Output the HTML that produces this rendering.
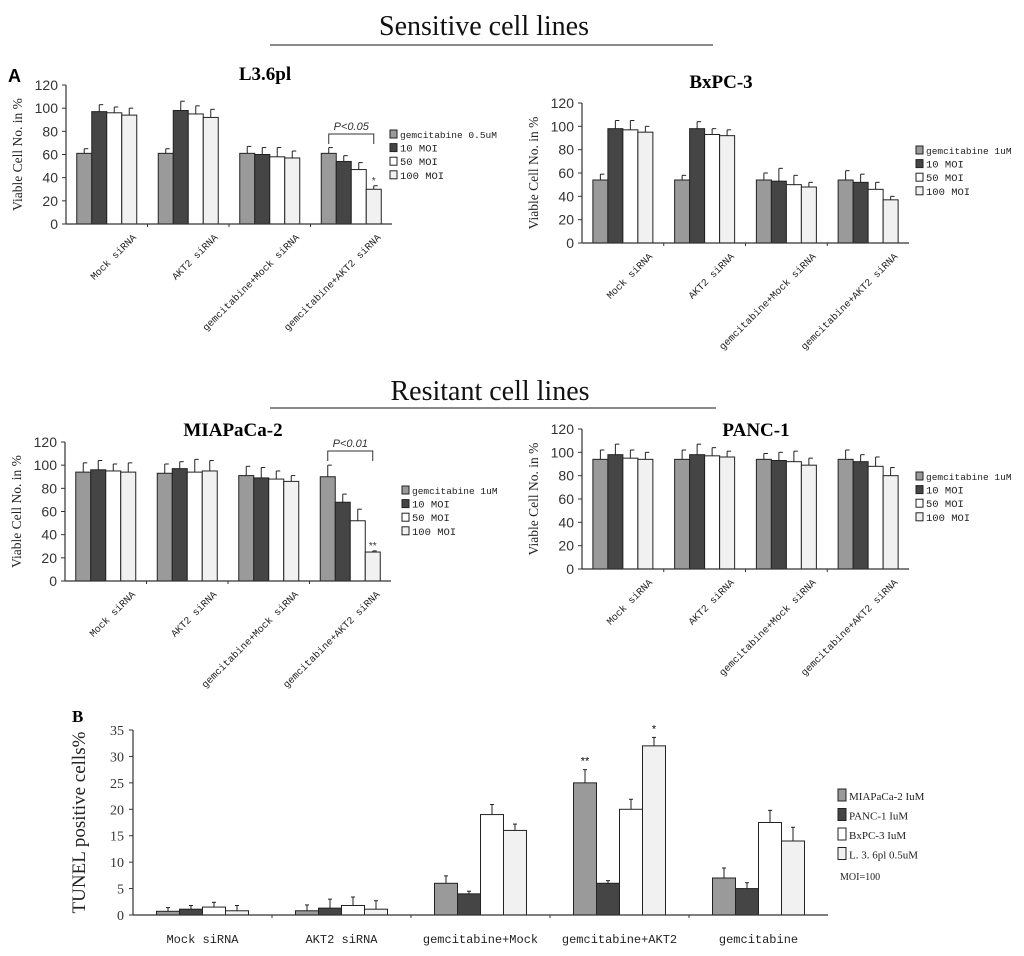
<!DOCTYPE html>
<html><head><meta charset="utf-8">
<style>
html,body{margin:0;padding:0;background:#fff;}
svg{display:block;}
.serif{font-family:"Liberation Serif",serif;}
.sans{font-family:"Liberation Sans",sans-serif;}
.mono{font-family:"Liberation Mono",monospace;}
</style></head>
<body>
<svg id="fig" width="1024" height="956" viewBox="0 0 1024 956" xmlns="http://www.w3.org/2000/svg">
<text class="serif" x="484" y="35" font-size="28" text-anchor="middle" fill="#111">Sensitive cell lines</text>
<line x1="270" y1="45" x2="713" y2="45" stroke="#444" stroke-width="1.2"/>
<text class="sans" x="8" y="82" font-size="18" font-weight="bold">A</text>
<text class="serif" x="490" y="400" font-size="28" text-anchor="middle" fill="#111">Resitant cell lines</text>
<line x1="270" y1="408" x2="716" y2="408" stroke="#444" stroke-width="1.2"/>
<text class="serif" x="72" y="722" font-size="17" font-weight="bold">B</text>
<g id="root"></g>
</svg>
<script>
const NS="http://www.w3.org/2000/svg";
const groupsA=["Mock siRNA","AKT2 siRNA","gemcitabine+Mock siRNA","gemcitabine+AKT2 siRNA"];
const seriesA=["10 MOI","50 MOI","100 MOI"];
const yTicksA=[0,20,40,60,80,100,120];
const fillsA=["#9a9a9a","#454545","#ffffff","#f1f1f1"];
// L3.6pl
const l36Gem=[61,61,61,61], l36M10=[97,98,60,54], l36M50=[96,95,58,47], l36M100=[94,92,57,30];
const l36Err=[[4,4,6,5],[6,8,6,5],[5,7,8,6],[6,7,6,3]];
// BxPC-3
const bxGem=[54,54,54,54], bxM10=[98,98,53,52], bxM50=[97,93,50,46], bxM100=[95,92,48,37];
const bxErr=[[5,4,6,8],[7,6,11,7],[8,5,8,6],[5,5,4,3]];
// MIAPaCa-2
const miaGem=[94,93,91,90], miaM10=[96,97,89,68], miaM50=[95,94,88,52], miaM100=[94,95,86,25];
const miaErr=[[8,8,8,10],[8,6,9,7],[6,11,7,10],[8,9,5,1]];
// PANC-1
const pancGem=[94,94,94,94], pancM10=[98,98,93,92], pancM50=[95,97,92,88], pancM100=[94,96,89,80];
const pancErr=[[8,8,5,8],[9,9,7,6],[7,7,9,8],[6,5,6,7]];
// Panel B
const groupsB=["Mock siRNA","AKT2 siRNA","gemcitabine+Mock","gemcitabine+AKT2","gemcitabine"];
const yTicksB=[0,5,10,15,20,25,30,35];
const seriesB=["MIAPaCa-2 IuM","PANC-1 IuM","BxPC-3 IuM","L. 3. 6pl 0.5uM"];
const bMia=[0.7,0.8,6,25,7], bPanc=[1.1,1.3,4,6,5], bBx=[1.5,1.8,19,20,17.5], bL36=[0.8,1.1,16,32,14];
const bErr=[[0.7,1.1,1.4,2.5,1.9],[0.7,1.7,0.5,0.5,1.1],[0.9,1.6,1.9,1.9,2.3],[1,1.6,1.2,1.6,2.6]];

const root=document.getElementById('root');
function el(tag,attrs,parent,txt){const e=document.createElementNS(NS,tag);for(const k in attrs)e.setAttribute(k,attrs[k]);if(txt!==undefined)e.textContent=txt;(parent||root).appendChild(e);return e;}

function chartA(cfg){
  const g=el('g',{});
  
  
  const x0=cfg.x0,x1=cfg.x1,y0=cfg.y0,y1=cfg.y1,max=cfg.max;
  const ys=v=>y0-(v/max)*(y0-y1);
  const gw=(x1-x0)/groupsA.length;
  const bw=15;
  const t=el('text',{x:cfg.tx,y:cfg.ty,'font-size':19,'font-weight':'bold','text-anchor':'middle',class:'serif'},g,cfg.title);
  
  
  const yl=el('text',{x:0,y:0,'font-size':13.5,'text-anchor':'middle',class:'serif',transform:'translate('+(x0-44)+','+((y0+y1)/2)+') rotate(-90)',fill:'#222'},g,'Viable Cell No. in %');
  
  
  yTicksA.forEach(v=>{
    const tk=el('text',{x:x0-8,y:ys(v)+5,'font-size':14,'text-anchor':'end',class:'sans',fill:'#333'},g,String(v));
    
    
    el('line',{x1:x0-4,x2:x0,y1:ys(v),y2:ys(v),stroke:'#333'},g);
  });
  const vals=cfg.data;
  groupsA.forEach((name,i)=>{
    const gx=x0+i*gw+(gw-4*bw)/2;
    for(let s=0;s<4;s++){
      const v=vals[s][i], e=cfg.err[s][i];
      const bx=gx+s*bw;
      const r=el('rect',{x:bx,y:ys(v),width:bw,height:y0-ys(v),fill:fillsA[s],stroke:'#222','stroke-width':1},g);
      
      
      el('line',{x1:bx+bw/2,x2:bx+bw/2,y1:ys(v),y2:ys(v+e),stroke:'#222'},g);
      el('line',{x1:bx+bw/2,x2:bx+bw/2+4,y1:ys(v+e),y2:ys(v+e),stroke:'#222'},g);
    }
    const cx=x0+i*gw+gw/2;
    const lb=el('text',{x:0,y:0,'font-size':10,'text-anchor':'end',class:'mono',transform:'translate('+(cx+30)+','+(y0+14)+') rotate(-45)',fill:'#222'},g,name);
    
    
    if(i>0) el('line',{x1:x0+i*gw,x2:x0+i*gw,y1:y0,y2:y0+3,stroke:'#333'},g);
  });
  el('line',{x1:x0,x2:x0,y1:y1,y2:y0,stroke:'#333','stroke-width':1.2},g);
  el('line',{x1:x0,x2:x1,y1:y0,y2:y0,stroke:'#333','stroke-width':1.2},g);
  const labels=[cfg.gemLabel].concat(seriesA);
  labels.forEach((l,s)=>{
    const ly=cfg.ly+s*13.6;
    const sw=el('rect',{x:cfg.lx,y:ly-8,width:7,height:8,fill:fillsA[s],stroke:'#222'},g);
    
    
    const lt=el('text',{x:cfg.lx+10,y:ly,'font-size':s==0?9.5:10.5,class:'mono',fill:'#222'},g,l);
    
    
  });
  if(cfg.sig){
    const sg=cfg.sig, i=3;
    const gx=x0+i*gw+(gw-4*bw)/2;
    const xa=gx+bw/2, xb=gx+3*bw+bw/2;
    el('path',{d:'M'+xa+','+(sg.y+10)+' L'+xa+','+sg.y+' L'+xb+','+sg.y+' L'+xb+','+(sg.y+10),fill:'none',stroke:'#333'},g);
    const st=el('text',{x:(xa+xb)/2,y:sg.y-4,'font-size':11,'font-style':'italic','text-anchor':'middle',class:'sans',fill:'#333'},g,sg.text);
    
    
    const v=vals[3][3]+cfg.err[3][3];
    el('text',{x:xb,y:ys(v)-2,'font-size':10,'text-anchor':'middle',class:'sans',fill:'#333'},g,sg.star);
  }
}

chartA({name:'chart-l36pl',title:'L3.6pl',tx:265,ty:80,x0:66,x1:392,y0:224,y1:85,max:120,
  data:[l36Gem,l36M10,l36M50,l36M100],err:l36Err,gemLabel:'gemcitabine 0.5uM',lx:390,ly:138,
  sig:{y:134,text:'P<0.05',star:'*'}});
chartA({name:'chart-bxpc3',title:'BxPC-3',tx:721,ty:88,x0:582,x1:909,y0:243,y1:103,max:120,
  data:[bxGem,bxM10,bxM50,bxM100],err:bxErr,gemLabel:'gemcitabine 1uM',lx:916,ly:154});
chartA({name:'chart-miapaca2',title:'MIAPaCa-2',tx:233,ty:436,x0:65,x1:391,y0:581,y1:442,max:120,
  data:[miaGem,miaM10,miaM50,miaM100],err:miaErr,gemLabel:'gemcitabine 1uM',lx:402,ly:494,
  sig:{y:451,text:'P<0.01',star:'**'}});
chartA({name:'chart-panc1',title:'PANC-1',tx:756,ty:436,x0:582,x1:909,y0:569,y1:429,max:120,
  data:[pancGem,pancM10,pancM50,pancM100],err:pancErr,gemLabel:'gemcitabine 1uM',lx:916,ly:480});

(function(){
  const g=el('g',{});
  
  
  const x0=133,x1=828,y0=915,y1=730,max=35;
  const ys=v=>y0-(v/max)*(y0-y1);
  const gw=(x1-x0)/groupsB.length, bw=23;
  const fills=["#9a9a9a","#454545","#ffffff","#f1f1f1"];
  const data=[bMia,bPanc,bBx,bL36];
  const yl=el('text',{x:0,y:0,'font-size':19,'text-anchor':'middle',class:'serif',transform:'translate('+(x0-48)+','+((y0+y1)/2)+') rotate(-90)',fill:'#222'},g,'TUNEL positive cells%');
  
  
  yTicksB.forEach(v=>{
    const tk=el('text',{x:x0-9,y:ys(v)+5,'font-size':14,'text-anchor':'end',class:'serif',fill:'#333'},g,String(v));
    
    
    el('line',{x1:x0-4,x2:x0,y1:ys(v),y2:ys(v),stroke:'#333'},g);
  });
  groupsB.forEach((name,i)=>{
    const gx=x0+i*gw+(gw-4*bw)/2;
    for(let s=0;s<4;s++){
      const v=data[s][i], e=bErr[s][i], bx=gx+s*bw;
      const r=el('rect',{x:bx,y:ys(v),width:bw,height:y0-ys(v),fill:fills[s],stroke:'#222'},g);
      
      
      el('line',{x1:bx+bw/2,x2:bx+bw/2,y1:ys(v),y2:ys(v+e),stroke:'#222'},g);
      el('line',{x1:bx+bw/2-2,x2:bx+bw/2+2,y1:ys(v+e),y2:ys(v+e),stroke:'#222'},g);
    }
    const lb=el('text',{x:x0+i*gw+gw/2,y:y0+28,'font-size':12,'text-anchor':'middle',class:'mono',fill:'#222'},g,name);
    
    
    if(i>0) el('line',{x1:x0+i*gw,x2:x0+i*gw,y1:y0,y2:y0+3,stroke:'#333'},g);
  });
  const gx3=x0+3*gw+(gw-4*bw)/2;
  el('text',{x:gx3+bw/2,y:ys(bMia[3]+bErr[0][3])-5,'font-size':11,'text-anchor':'middle',class:'sans'},g,'**');
  el('text',{x:gx3+3*bw+bw/2,y:ys(bL36[3]+bErr[3][3])-5,'font-size':11,'text-anchor':'middle',class:'sans'},g,'*');
  el('line',{x1:x0,x2:x0,y1:y1,y2:y0,stroke:'#333','stroke-width':1.2},g);
  el('line',{x1:x0,x2:x1,y1:y0,y2:y0,stroke:'#333','stroke-width':1.2},g);
  seriesB.forEach((l,s)=>{
    const ly=800+s*19.5;
    const sw=el('rect',{x:838,y:ly-11,width:8,height:12,fill:fills[s],stroke:'#222'},g);
    
    
    const lt=el('text',{x:849,y:ly,'font-size':11,class:'serif',fill:'#222'},g,l);
    
    
  });
  const moi=el('text',{x:840,y:880,'font-size':10,class:'serif',fill:'#222'},g,'MOI=100');
  
  
})();
</script>
</body></html>
